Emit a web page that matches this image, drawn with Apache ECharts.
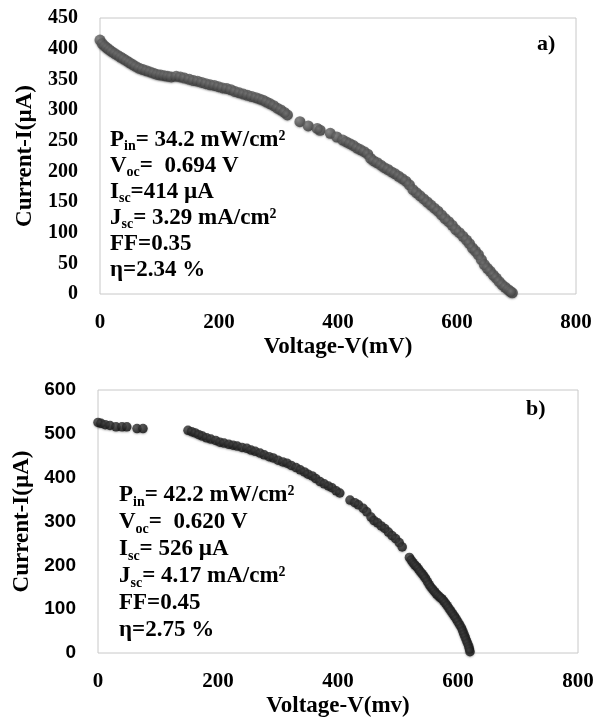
<!DOCTYPE html>
<html>
<head>
<meta charset="utf-8">
<script src="https://cdn.jsdelivr.net/npm/echarts@6/dist/echarts.min.js"></script>
<style>
html, body { margin: 0; padding: 0; background: #fff; }
#main { width: 608px; height: 721px; }
</style>
</head>
<body>
<div id="main"></div>
<script>
// panel a) voltage (mV) / current (uA)
var voltA = [0, 4, 8, 12, 16, 20, 25, 30, 35, 40, 45, 50, 55, 60, 66, 72, 78, 84, 90, 96,
    102, 108, 114, 120, 128, 135, 142, 150, 157, 164, 171, 178, 185, 192, 199, 206, 213, 220, 227, 234,
    241, 248, 255, 262, 268, 274, 280, 286, 292, 298, 304, 310, 315,
    336, 350, 365, 370, 387, 398,
    408, 414, 420, 426, 432, 438, 444, 450, 455, 460, 466, 472, 478, 484, 490, 496, 502, 508, 514, 520,
    526, 532, 538, 544, 550, 556, 562, 568, 574, 580, 586, 592, 598, 604, 610, 616, 621, 626, 631, 636,
    641, 646, 651, 656, 661, 666, 671, 676, 681, 686, 690, 693];
var currA = [414, 408, 404, 401, 398, 395, 392, 389, 386, 383, 380, 377, 374, 371, 368, 366, 364, 362, 360, 358,
    357, 356, 355, 354, 355, 354, 352, 350, 348, 347, 345, 343, 341, 340, 338, 336, 335, 333, 330, 328,
    326, 324, 322, 320, 318, 316, 313, 310, 307, 303, 300, 296, 292,
    281, 274, 270, 267, 262, 256,
    251, 248, 245, 242, 238, 235, 232, 228, 221, 217, 214, 210, 206, 203, 199, 196, 192, 188, 184, 178,
    170, 165, 160, 155, 150, 145, 140, 135, 129, 123, 118, 112, 105, 100, 94, 88, 82, 75, 70, 64,
    56, 48, 42, 37, 31, 26, 20, 15, 11, 7, 4, 2];

// panel b)
var voltB = [0, 5, 12, 20, 30, 40, 48, 65, 75,
    150, 156, 162, 168, 174, 181, 188, 196, 203, 210, 218, 225, 232, 240, 248, 255, 262, 270, 277, 285,
    292, 300, 308, 315, 322, 330, 337, 344, 350, 357, 363, 370, 377, 384, 390, 397, 403,
    420, 428, 434, 442, 448, 455, 460, 466, 472, 478, 484, 490, 496, 502, 507,
    519, 522, 525, 528, 531, 534, 537, 540, 543, 546, 549, 552, 555, 558, 561, 564, 567, 570, 573, 576,
    579, 582, 585, 588, 591, 594, 597, 600, 603, 606, 608, 610, 612, 614, 616, 618, 619, 620];
var currB = [526, 524, 521, 519, 516, 516, 516, 512, 512,
    508, 505, 502, 498, 495, 491, 488, 485, 481, 479, 476, 474, 472, 469, 467, 463, 460, 456, 452, 448,
    445, 440, 436, 433, 428, 423, 418, 413, 408, 404, 398, 391, 386, 381, 377, 370, 365,
    349, 343, 338, 330, 322, 310, 302, 297, 290, 284, 276, 268, 261, 252, 242,
    218, 212, 206, 201, 197, 192, 186, 181, 176, 170, 163, 156, 150, 145, 140, 135, 131, 127, 124, 119,
    114, 108, 102, 96, 90, 84, 78, 71, 64, 57, 50, 43, 36, 29, 22, 15, 9, 3];

var infoA = ['{b|P}{s|in}{b|= 34.2 mW/cm²}', '{b|V}{s|oc}{b|=  0.694 V}', '{b|I}{s|sc}{b|=414 µA}',
    '{b|J}{s|sc}{b|= 3.29 mA/cm²}', '{b|FF=0.35}', '{b|η=2.34 %}'];
var infoB = ['{b|P}{s|in}{b|= 42.2 mW/cm²}', '{b|V}{s|oc}{b|=  0.620 V}', '{b|I}{s|sc}{b|= 526 µA}',
    '{b|J}{s|sc}{b|= 4.17 mA/cm²}', '{b|FF=0.45}', '{b|η=2.75 %}'];

function pairs(xs, ys) {
    var out = [];
    for (var i = 0; i < xs.length; i++) out.push([xs[i], ys[i]]);
    return out;
}

var serif = '"Liberation Serif", "Times New Roman", serif';
var sans = '"Liberation Sans", Arial, sans-serif';

function richStyle(lh) {
    return {
        b: { fontFamily: serif, fontWeight: 'bold', fontSize: 23, lineHeight: lh, fill: '#000', verticalAlign: 'middle' },
        s: { fontFamily: serif, fontWeight: 'bold', fontSize: 14, lineHeight: 14, fill: '#000', verticalAlign: 'bottom' }
    };
}

function axisName(txt) {
    return { fontFamily: serif, fontWeight: 'bold', fontSize: 23, color: '#000' };
}

var dom = document.getElementById('main');
var myChart = echarts.init(dom);
var option = {
    animation: false,
    backgroundColor: '#fff',
    grid: [
        { left: 100, top: 18, width: 476, height: 276, show: true, borderColor: '#c8c8c8', borderWidth: 1 },
        { left: 98, top: 390, width: 480, height: 263, show: true, borderColor: '#c8c8c8', borderWidth: 1 }
    ],
    xAxis: [
        {
            gridIndex: 0, type: 'value', min: 0, max: 800, interval: 200,
            name: 'Voltage-V(mV)', nameLocation: 'middle', nameGap: 42,
            nameTextStyle: axisName(),
            axisLine: { show: false }, axisTick: { show: false }, splitLine: { show: false },
            axisLabel: { margin: 18, fontFamily: serif, fontWeight: 'bold', fontSize: 21, color: '#000' }
        },
        {
            gridIndex: 1, type: 'value', min: 0, max: 800, interval: 200,
            name: 'Voltage-V(mv)', nameLocation: 'middle', nameGap: 42,
            nameTextStyle: axisName(),
            axisLine: { show: false }, axisTick: { show: false }, splitLine: { show: false },
            axisLabel: { margin: 18, fontFamily: serif, fontWeight: 'bold', fontSize: 21, color: '#000' }
        }
    ],
    yAxis: [
        {
            gridIndex: 0, type: 'value', min: 0, max: 450, interval: 50,
            name: 'Current-I(µA)', nameLocation: 'middle', nameRotate: 90, nameGap: 63,
            nameTextStyle: axisName(),
            axisLine: { show: false }, axisTick: { show: false }, splitLine: { show: false },
            axisLabel: { margin: 22, fontFamily: serif, fontWeight: 'bold', fontSize: 20, color: '#000' }
        },
        {
            gridIndex: 1, type: 'value', min: 0, max: 600, interval: 100,
            name: 'Current-I(µA)', nameLocation: 'middle', nameRotate: 90, nameGap: 61,
            nameTextStyle: axisName(),
            axisLine: { show: false }, axisTick: { show: false }, splitLine: { show: false },
            axisLabel: { margin: 22, fontFamily: sans, fontWeight: 'bold', fontSize: 19, color: '#000' }
        }
    ],
    series: [
        {
            type: 'scatter', xAxisIndex: 0, yAxisIndex: 0,
            data: pairs(voltA, currA), symbolSize: 11,
            itemStyle: {
                color: { type: 'radial', x: 0.35, y: 0.35, r: 0.75,
                    colorStops: [{ offset: 0, color: '#7a7a7a' }, { offset: 1, color: '#2e2e2e' }] },
                shadowBlur: 2, shadowColor: 'rgba(0,0,0,0.35)', shadowOffsetY: 1
            }
        },
        {
            type: 'scatter', xAxisIndex: 1, yAxisIndex: 1,
            data: pairs(voltB, currB), symbolSize: 9.5,
            itemStyle: {
                color: { type: 'radial', x: 0.35, y: 0.35, r: 0.75,
                    colorStops: [{ offset: 0, color: '#444' }, { offset: 1, color: '#050505' }] },
                shadowBlur: 2, shadowColor: 'rgba(0,0,0,0.35)', shadowOffsetY: 1
            }
        }
    ],
    graphic: [
        { type: 'text', left: 110, top: 129, z: 10,
            style: { text: infoA.join('\n'), rich: richStyle(26) } },
        { type: 'text', left: 119, top: 484, z: 10,
            style: { text: infoB.join('\n'), rich: richStyle(27) } },
        { type: 'text', left: 537, top: 33, z: 10,
            style: { text: 'a)', fontFamily: serif, fontWeight: 'bold', fontSize: 22, fill: '#000' } },
        { type: 'text', left: 526, top: 398, z: 10,
            style: { text: 'b)', fontFamily: serif, fontWeight: 'bold', fontSize: 22, fill: '#000' } }
    ]
};
myChart.setOption(option, true);
</script>
</body>
</html>
